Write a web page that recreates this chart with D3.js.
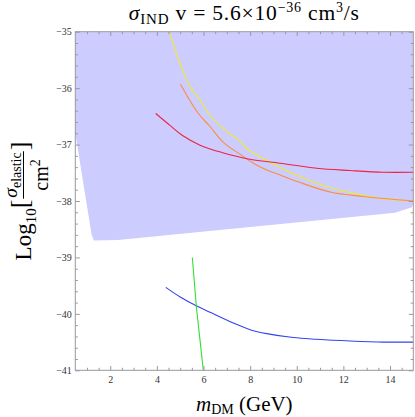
<!DOCTYPE html>
<html>
<head>
<meta charset="utf-8">
<script src="https://cdn.jsdelivr.net/npm/d3@7"></script>
<style>
  body { margin: 0; background: #fff; }
  text { font-family: "Liberation Serif", "Times New Roman", serif; white-space: pre; }
</style>
</head>
<body>
<svg id="chart" width="415" height="417"></svg>
<script>
// excluded region (shaded)
var regionMass  = [0.5, 15, 15, 14.94, 14.22, 2.33, 1.3, 1.2, 0.5];
var regionSigma = [-35, -35, -38.04, -38.11, -38.21, -38.69, -38.70, -38.6, -36.8];

var yellowMass  = [4.53, 4.99, 5.42, 5.85, 6.21, 7.0, 7.42, 7.85, 8.14, 8.93, 10.14, 11.57, 13.0, 13.86, 15];
var yellowSigma = [-35.0, -35.56, -35.97, -36.21, -36.45, -36.77, -36.89, -37.07, -37.15, -37.33, -37.57, -37.78, -37.91, -37.97, -38.0];

var orangeMass  = [5.01, 5.78, 6.28, 6.85, 7.56, 8.14, 8.71, 9.29, 10.06, 11.43, 12.86, 15];
var orangeSigma = [-35.93, -36.45, -36.68, -36.96, -37.17, -37.33, -37.45, -37.54, -37.66, -37.84, -37.92, -38.0];

var redMass  = [3.95, 4.56, 5.1, 5.85, 6.79, 7.87, 9.29, 10.86, 12.29, 13.72, 15];
var redSigma = [-36.45, -36.66, -36.84, -37.01, -37.14, -37.25, -37.33, -37.42, -37.46, -37.49, -37.49];

var blueMass  = [4.38, 5.0, 5.71, 6.28, 7.28, 8.0, 8.71, 9.85, 10.86, 12.29, 13.72, 15];
var blueSigma = [-39.53, -39.70, -39.86, -39.97, -40.16, -40.28, -40.35, -40.42, -40.45, -40.48, -40.50, -40.50];

var greenMass  = [5.52, 5.7, 5.86, 5.99];
var greenSigma = [-39.0, -39.9, -40.5, -41.0];

var xTicks = [2, 4, 6, 8, 10, 12, 14];
var yTicks = [-41, -40, -39, -38, -37, -36, -35];

var serif = '"Liberation Serif", "Times New Roman", serif';

var svg = d3.select("#chart"),
    margin = {top: 31.7, right: 1.7, bottom: 46.7, left: 75.3},
    width = +svg.attr("width") - margin.left - margin.right,
    height = +svg.attr("height") - margin.top - margin.bottom,
    g = svg.append("g").attr("transform", "translate(" + margin.left + "," + margin.top + ")");

var x = d3.scaleLinear().domain([0.5, 15]).range([0, width]);
var y = d3.scaleLinear().domain([-41, -35]).range([height, 0]);

var xMinor = d3.range(1, 15, 0.5).filter(function(d) { return d % 2 !== 0; });
var yMinor = d3.range(-40.8, -35, 0.2).map(function(d) { return Math.round(d * 10) / 10; })
    .filter(function(d) { return d % 1 !== 0; });

svg.append("defs").append("clipPath").attr("id", "clip")
    .append("rect").attr("width", width).attr("height", height);

var plot = g.append("g").attr("clip-path", "url(#clip)");

var poly = d3.line().x(function(d) { return x(d[0]); }).y(function(d) { return y(d[1]); });

plot.append("path")
    .datum(d3.zip(regionMass, regionSigma))
    .attr("fill", "#ccccff")
    .attr("d", poly);

var smooth = d3.line()
    .x(function(d) { return x(d[0]); })
    .y(function(d) { return y(d[1]); })
    .curve(d3.curveCatmullRom.alpha(0.5));

var curves = [
    {m: yellowMass, s: yellowSigma, c: "#eeee22", gen: smooth},
    {m: orangeMass, s: orangeSigma, c: "#ff8c3a", gen: smooth},
    {m: redMass, s: redSigma, c: "#ee2244", gen: smooth},
    {m: blueMass, s: blueSigma, c: "#3344ee", gen: smooth},
    {m: greenMass, s: greenSigma, c: "#33dd33", gen: poly}
];

curves.forEach(function(k) {
    plot.append("path")
        .datum(d3.zip(k.m, k.s))
        .attr("fill", "none")
        .attr("stroke", k.c)
        .attr("stroke-width", 1.1)
        .attr("d", k.gen);
});

// frame and ticks
function styleAxis(a) {
    a.attr("font-family", null);
    a.select(".domain").remove();
    a.selectAll("line").attr("stroke", "#999");
    a.selectAll("text").attr("fill", "#333")
        .style("font-family", serif).style("font-size", "10px");
}

var fmt = d3.format("d");

g.append("g").attr("transform", "translate(0," + height + ")")
    .call(d3.axisBottom(x).tickValues(xTicks).tickSize(-4.3).tickPadding(5.5).tickFormat(fmt)).call(styleAxis);
g.append("g").attr("transform", "translate(0," + height + ")")
    .call(d3.axisBottom(x).tickValues(xMinor).tickSize(-2.5).tickFormat("")).call(styleAxis);
g.append("g")
    .call(d3.axisTop(x).tickValues(xTicks).tickSize(-4.3).tickFormat("")).call(styleAxis);
g.append("g")
    .call(d3.axisTop(x).tickValues(xMinor).tickSize(-2.5).tickFormat("")).call(styleAxis);

g.append("g")
    .call(d3.axisLeft(y).tickValues(yTicks).tickSize(-4.5).tickPadding(3.5).tickFormat(fmt)).call(styleAxis);
g.append("g")
    .call(d3.axisLeft(y).tickValues(yMinor).tickSize(-2.6).tickFormat("")).call(styleAxis);
g.append("g").attr("transform", "translate(" + width + ",0)")
    .call(d3.axisRight(y).tickValues(yTicks).tickSize(-4.5).tickFormat("")).call(styleAxis);
g.append("g").attr("transform", "translate(" + width + ",0)")
    .call(d3.axisRight(y).tickValues(yMinor).tickSize(-2.6).tickFormat("")).call(styleAxis);

g.append("rect")
    .attr("width", width).attr("height", height)
    .attr("fill", "none").attr("stroke", "#999").attr("stroke-width", 1);

// title
var title = svg.append("text")
    .attr("x", margin.left + width / 2).attr("y", 19.5)
    .attr("text-anchor", "middle").style("font-size", "21.5px").style("letter-spacing", "0.8px");
title.append("tspan").style("font-style", "italic").text("σ");
title.append("tspan").attr("dy", 4.5).style("font-size", "15px").text("IND");
title.append("tspan").attr("dy", -4.5).text(" v = 5.6×10");
title.append("tspan").attr("dy", -8).style("font-size", "14px").text("−36");
title.append("tspan").attr("dy", 8).text(" cm");
title.append("tspan").attr("dy", -8).style("font-size", "14px").text("3");
title.append("tspan").attr("dy", 8).text("/s");

// x label
var xl = svg.append("text")
    .attr("x", margin.left + width / 2).attr("y", 410.5)
    .attr("text-anchor", "middle").style("font-size", "21px");
xl.append("tspan").style("font-style", "italic").text("m");
xl.append("tspan").attr("dy", 3).style("font-size", "14px").text("DM");
xl.append("tspan").attr("dy", -3).text(" (GeV)");

// y label, rotated
var yl = svg.append("g");
var pos = 0;
var logT = yl.append("text").attr("x", pos).attr("y", 28).style("font-size", "23px");
logT.append("tspan").text("Log");
logT.append("tspan").attr("dy", 5).style("font-size", "15px").text("10");
pos += logT.node().getComputedTextLength();
var lb = yl.append("text").attr("x", pos).attr("y", 24.5).style("font-size", "26px").text("[");
pos += lb.node().getComputedTextLength() + 1;

var num = yl.append("text").attr("y", 14).style("font-size", "19.5px").attr("text-anchor", "middle");
num.append("tspan").style("font-style", "italic").text("σ");
num.append("tspan").attr("dy", 3.5).style("font-size", "14px").text("elastic");
var den = yl.append("text").attr("y", 44.5).style("font-size", "20px").attr("text-anchor", "middle");
den.append("tspan").text("cm");
den.append("tspan").attr("dy", -7.5).style("font-size", "14px").text("2");
var fw = Math.max(num.node().getComputedTextLength(), den.node().getComputedTextLength()) + 2;
num.attr("x", pos + fw / 2);
den.attr("x", pos + fw / 2);
yl.append("line").attr("x1", pos).attr("x2", pos + fw).attr("y1", 20.5).attr("y2", 20.5)
    .attr("stroke", "#000").attr("stroke-width", 1);
pos += fw + 1;
var rb = yl.append("text").attr("x", pos).attr("y", 24.5).style("font-size", "26px").text("]");
pos += rb.node().getComputedTextLength();

yl.attr("transform", "translate(3," + (margin.top + height / 2) + ") rotate(-90) translate(" + (-pos / 2) + ",0)");
</script>
</body>
</html>
